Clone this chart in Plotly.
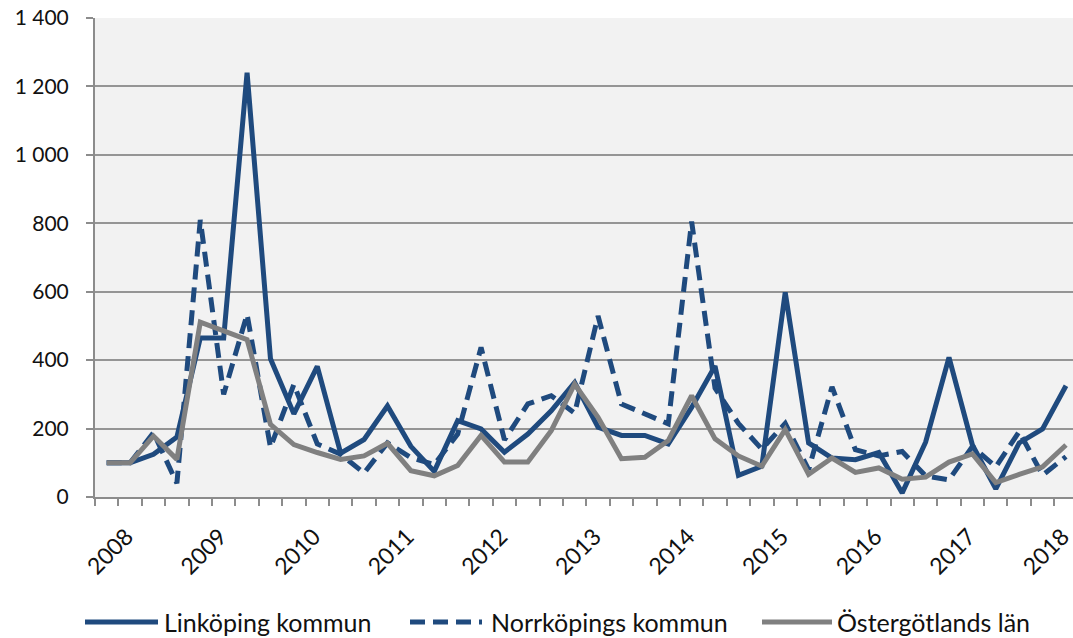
import plotly.graph_objects as go

# Quarters 2008 Q1 .. 2018 Q2
quarters = [f"{y} K{q}" for y in range(2008, 2019) for q in range(1, 5)][:42]

linkoping = [100, 100, 125, 175, 465, 465, 1240, 404, 243, 382, 128, 168, 266, 148,
             75, 223, 199, 131, 184, 252, 335, 204, 180, 180, 155, 262, 383, 63,
             90, 598, 158, 114, 109, 130, 12, 160, 408, 152, 24, 158, 199, 325]
norrkoping = [100, 100, 188, 40, 810, 300, 534, 145, 329, 155, 125, 70, 158, 115,
              95, 184, 437, 167, 272, 296, 245, 529, 272, 243, 214, 805, 318, 215,
              140, 215, 80, 322, 138, 120, 133, 62, 50, 148, 88, 191, 64, 118]
ostergotland = [100, 100, 178, 110, 511, 487, 460, 212, 153, 130, 110, 120, 157, 77,
                62, 92, 180, 102, 102, 194, 330, 233, 112, 116, 165, 296, 170, 120,
                90, 197, 66, 114, 72, 85, 52, 58, 102, 126, 42, 66, 88, 152]

series_names = ["Linköping kommun", "Norrköpings kommun", "Östergötlands län"]
year_labels = ["2008", "2009", "2010", "2011", "2012", "2013", "2014", "2015", "2016", "2017", "2018"]
y_tickvals = [0, 200, 400, 600, 800, 1000, 1200, 1400]
y_ticktext = ["0", "200", "400", "600", "800", "1 000", "1 200", "1 400"]

BLUE = "#1f4a7e"
GRAY = "#808080"
FONT = "Lato"
TXT = "#111111"

x = list(range(len(quarters)))

fig = go.Figure()
fig.add_trace(go.Scatter(x=x, y=linkoping, mode="lines", name=series_names[0],
                         text=quarters, line=dict(color=BLUE, width=5)))
fig.add_trace(go.Scatter(x=x, y=norrkoping, mode="lines", name=series_names[1],
                         text=quarters, line=dict(color=BLUE, width=5, dash="15px,8px")))
fig.add_trace(go.Scatter(x=x, y=ostergotland, mode="lines", name=series_names[2],
                         text=quarters, line=dict(color=GRAY, width=5)))

label_shift = 0.85
fig.update_xaxes(
    range=[-0.5, 41.3],
    tickmode="array",
    tickvals=[i * 4 + label_shift for i in range(len(year_labels))],
    ticktext=year_labels,
    tickangle=-45,
    ticks="",
    showgrid=False,
    zeroline=False,
    automargin=False,
    ticklabeloverflow="allow",
    ticklabelstandoff=15,
    showline=True, linecolor="#8c8c8c", linewidth=2,
    tickfont=dict(family=FONT, size=23, color=TXT),
    minor=dict(tickmode="linear", tick0=-0.5, dtick=1, ticks="outside",
               ticklen=7, tickcolor="#8c8c8c", tickwidth=2, showgrid=False),
)
fig.update_yaxes(
    range=[0, 1400],
    tickmode="array",
    tickvals=y_tickvals,
    ticktext=y_ticktext,
    ticks="outside", ticklen=7, tickcolor="#8c8c8c", tickwidth=2,
    showgrid=True, gridcolor="#959595", gridwidth=2,
    zeroline=False,
    automargin=False,
    ticklabeloverflow="allow",
    showline=True, linecolor="#8c8c8c", linewidth=2,
    tickfont=dict(family=FONT, size=21, color=TXT),
    ticklabelstandoff=13,
)

# Figure fills the page (body margin removed by post_script below).
ML, MT, MB = 95, 18, 141
FW, FH = 1073, 638
W = FW - ML
H = FH - MT - MB
def px_x(p):
    return (p - ML) / W
def px_y(p):
    return (FH - MB - p) / H

leg_y = px_y(622)
legend_items = [
    (85, 158, 162, series_names[0], BLUE, "solid"),
    (410, 482, 489, series_names[1], BLUE, "15px,8px"),
    (762, 832, 835, series_names[2], GRAY, "solid"),
]
for x0, x1, tx, name, col, dash in legend_items:
    fig.add_shape(type="line", xref="paper", yref="paper",
                  x0=px_x(x0), x1=px_x(x1), y0=leg_y, y1=leg_y,
                  line=dict(color=col, width=5, dash=dash))
    fig.add_annotation(xref="paper", yref="paper", x=px_x(tx), y=leg_y,
                       text=name, showarrow=False, xanchor="left", yanchor="middle",
                       font=dict(family=FONT, size=25, color=TXT))

fig.update_layout(
    width=FW, height=FH,
    margin=dict(l=ML, r=0, t=MT, b=MB),
    plot_bgcolor="#f2f2f2",
    paper_bgcolor="#ffffff",
    showlegend=False,
)

fig.write_html(
    "out.html",
    config={"displayModeBar": False},
    post_script="document.body.style.margin='0';document.body.style.overflow='hidden';",
)
